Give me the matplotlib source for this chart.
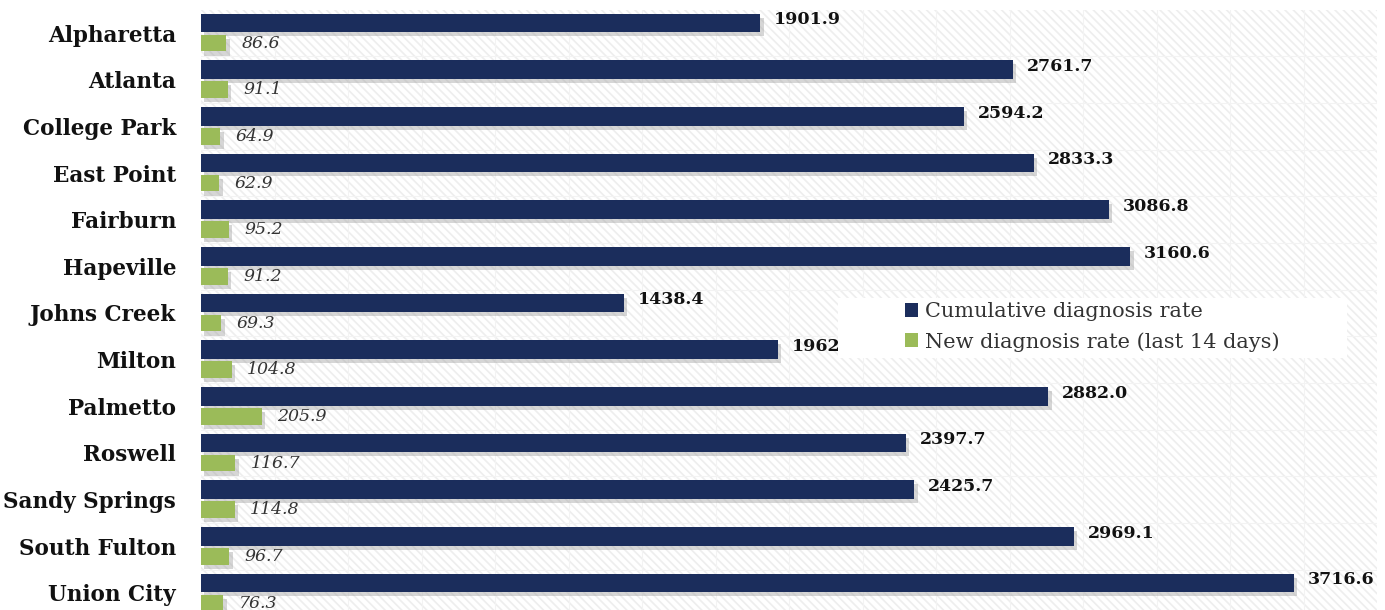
import matplotlib
matplotlib.use("Agg")
import matplotlib.pyplot as plt
import matplotlib.patheffects as pe
from matplotlib.patches import Rectangle
import numpy as np

cities = ["Alpharetta", "Atlanta", "College Park", "East Point", "Fairburn", "Hapeville",
          "Johns Creek", "Milton", "Palmetto", "Roswell", "Sandy Springs", "South Fulton",
          "Union City"]
cumulative = [1901.9, 2761.7, 2594.2, 2833.3, 3086.8, 3160.6, 1438.4, 1962, 2882.0,
              2397.7, 2425.7, 2969.1, 3716.6]
cumulative_labels = ["1901.9", "2761.7", "2594.2", "2833.3", "3086.8", "3160.6", "1438.4",
                     "1962", "2882.0", "2397.7", "2425.7", "2969.1", "3716.6"]
new14 = [86.6, 91.1, 64.9, 62.9, 95.2, 91.2, 69.3, 104.8, 205.9, 116.7, 114.8, 96.7, 76.3]
new14_labels = ["86.6", "91.1", "64.9", "62.9", "95.2", "91.2", "69.3", "104.8", "205.9",
                "116.7", "114.8", "96.7", "76.3"]

NAVY = "#1b2d5c"
GREEN = "#9bbb59"
SERIF = ["DejaVu Serif"]

plt.rcParams["hatch.color"] = "#eeeeee"
plt.rcParams["hatch.linewidth"] = 1.2

W, H = 1385, 610
AX_L, AX_W, AX_TOP, AX_BOT = 201, 1176, 9.7, 616.3
fig = plt.figure(figsize=(W / 100, H / 100), dpi=100)
ax = fig.add_axes([AX_L / W, (H - AX_BOT) / H, AX_W / W, (AX_BOT - AX_TOP) / H])
ax.set_facecolor("white")
ax.patch.set_hatch("\\\\\\\\")
ax.patch.set_edgecolor("#eeeeee")


def ax_frac(px, py):
    return (px - AX_L) / AX_W, (AX_BOT - py) / (AX_BOT - AX_TOP)


n = len(cities)
y = np.arange(n)
shadow = [pe.SimplePatchShadow(offset=(2.5, -3), shadow_rgbFace="#999999", alpha=0.4), pe.Normal()]
b1 = ax.barh(y - 0.215, cumulative, height=0.40, color=NAVY, label="Cumulative diagnosis rate", zorder=3)
b2 = ax.barh(y + 0.215, new14, height=0.36, color=GREEN, label="New diagnosis rate (last 14 days)", zorder=3)
for p in list(b1) + list(b2):
    p.set_path_effects(shadow)

for i in range(n):
    ax.annotate(cumulative_labels[i], (cumulative[i], y[i] - 0.28), xytext=(10, 0),
                textcoords="offset points", va="center", ha="left", fontsize=12.5,
                fontweight="bold", family=SERIF, color="#111111", zorder=5)
    ax.annotate(new14_labels[i], (new14[i], y[i] + 0.22), xytext=(11, 0),
                textcoords="offset points", va="center", ha="left", fontsize=12.5,
                style="italic", family=SERIF, color="#333333", zorder=5)

ax.set_xlim(0, 4000)
ax.set_ylim(n - 0.5, -0.5)
ax.set_yticks(y)
ax.set_yticklabels(cities, fontsize=15.5, fontweight="bold", family=SERIF, color="#111111")
ax.tick_params(axis="y", length=0, pad=18)
ax.set_xticks([])
for x in np.arange(250, 4000, 250):
    ax.axvline(x, color="#f3f3f3", lw=0.8, zorder=1)
for yy in np.arange(0.5, n - 0.5, 1):
    ax.axhline(yy, color="#f3f3f3", lw=0.8, zorder=1)
for s in ax.spines.values():
    s.set_visible(False)

# legend box
bx0, by0 = ax_frac(838, 358)
bx1, by1 = ax_frac(1347, 298)
ax.add_patch(Rectangle((bx0, by0), bx1 - bx0, by1 - by0, transform=ax.transAxes,
                       facecolor="white", edgecolor="none", zorder=6))
cx, cy = ax_frac((907 + 1278) / 2, 327)
leg = ax.legend(loc="center", bbox_to_anchor=(cx, cy),
                prop={"family": SERIF, "size": 15}, frameon=False,
                handlelength=0.62, handleheight=0.62, handletextpad=0.34, borderpad=0,
                labelspacing=0.5, borderaxespad=0)
leg.set_zorder(7)
for t in leg.get_texts():
    t.set_color("#333333")
for hnd in leg.legend_handles:
    hnd.set_path_effects([])

fig.savefig("out.png", dpi=100)
